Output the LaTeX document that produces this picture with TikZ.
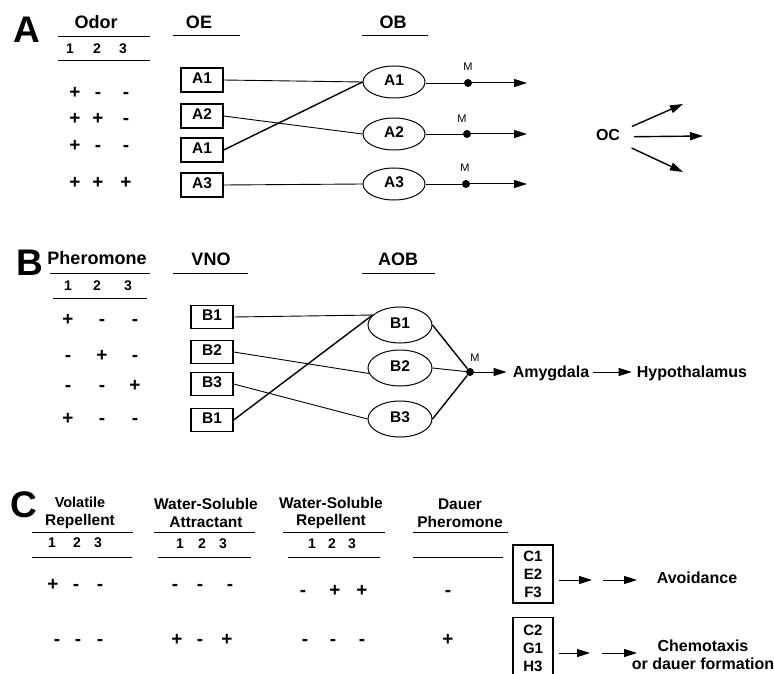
\documentclass[tikz,border=0pt]{standalone}
\usepackage{fontspec}
\setmainfont{Liberation Sans}
\usepackage{tikz}
\usetikzlibrary{shapes,arrows.meta,positioning,calc}

\tikzset{
  panel/.style={font=\bfseries\fontsize{37}{37}\selectfont, inner sep=0pt},
  hdr/.style={font=\bfseries\fontsize{18}{20}\selectfont, inner sep=0pt, text height=0.716em, text depth=0pt},
  hdrc/.style={font=\bfseries\fontsize{15.5}{17.5}\selectfont, align=center, inner sep=0pt},
  num/.style={font=\bfseries\fontsize{14}{16}\selectfont, inner sep=0pt, text height=0.716em, text depth=0pt},
  sgn/.style={font=\bfseries\fontsize{19}{20}\selectfont, inner sep=0pt, text height=0.62em, text depth=0pt},
  rcpt/.style={draw, line width=1.3pt, minimum width=42pt, minimum height=24pt, inner sep=0pt,
    text height=0.716em, text depth=0pt, font=\bfseries\fontsize{15.5}{17}\selectfont},
  glom/.style={draw, ellipse, line width=1pt, minimum width=62pt, minimum height=32pt, inner sep=0pt,
    text height=0.716em, text depth=0pt, font=\bfseries\fontsize{15.5}{17}\selectfont},
  cellbox/.style={draw, line width=1.3pt, minimum width=40pt, inner sep=0pt, align=center,
    font=\bfseries\fontsize{15}{18}\selectfont},
  junc/.style={circle, fill=black, inner sep=0pt, minimum size=8pt},
  mlab/.style={font=\fontsize{11}{12}\selectfont, inner sep=0pt},
  outlab/.style={font=\bfseries\fontsize{16}{18}\selectfont, align=center, inner sep=0pt},
  wire/.style={line width=0.9pt},
  xwire/.style={line width=1.4pt},
  rule/.style={line width=1pt},
  arr/.style={line width=1pt, -{Triangle[length=13pt,width=8pt]}}
}

\begin{document}
\begin{tikzpicture}[x=1pt, y=-1pt]
  \useasboundingbox (0,0) rectangle (774,674);
  \clip (0,0) rectangle (774,674);

  % panel A: odor -> OE -> OB
  \node[panel] (labA) at (27,30) {A};
  \node[hdr] (odor) at (96,25) {Odor};
  \draw[rule] (58,37) -- (150,37);
  \draw[rule] (58,61) -- (150,61);
  \foreach \n/\x in {1/70,2/97,3/123}
    \node[num] (oden\n) at (\x,50) {\n};
  \node[hdr] (oe) at (199,25) {OE};
  \draw[rule] (173,36) -- (240,36);
  \node[hdr] (ob) at (393,25) {OB};
  \draw[rule] (362,36) -- (428,36);

  \foreach \r/\y/\a/\b/\c in {1/95/+/-/-, 2/121/+/+/-, 3/148/+/-/-, 4/185/+/+/+} {
    \node[sgn] (sa\r1) at (75,\y) {\a};
    \node[sgn] (sa\r2) at (98,\y) {\b};
    \node[sgn] (sa\r3) at (126,\y) {\c};
  }

  \node[rcpt] (oea1) at (202,80) {A1};
  \node[rcpt] (oea2) at (202,116) {A2};
  \node[rcpt] (oea1b) at (202,150) {A1};
  \node[rcpt] (oea3) at (202,185) {A3};

  \node[glom] (oba1) at (394,82) {A1};
  \node[glom] (oba2) at (394,134) {A2};
  \node[glom] (oba3) at (394,184) {A3};

  \draw[wire] (oea1.east) -- (oba1.west);
  \draw[wire] (oea2.east) -- (oba2.west);
  \draw[xwire] (oea1b.east) -- (oba1.west);
  \draw[wire] (oea3.east) -- (oba3.west);

  \node[junc] (ma1) at (468,83) {};
  \node[junc] (ma2) at (467,134) {};
  \node[junc] (ma3) at (466,184) {};
  \node[mlab] at (468,67) {M};
  \node[mlab] at (462,119) {M};
  \node[mlab] at (465,168) {M};
  \coordinate (ta1) at (527,83);
  \coordinate (ta2) at (527,134);
  \coordinate (ta3) at (527,184);
  \draw[wire] (oba1.east |- ma1) -- (ma1);
  \draw[wire] (oba2.east) -- (ma2);
  \draw[wire] (oba3.east) -- (ma3);
  \draw[arr] (ma1) -- (ta1);
  \draw[arr] (ma2) -- (ta2);
  \draw[arr] (ma3) -- (ta3);

  \node[outlab, text height=0.716em, text depth=0pt] (oc) at (608,137) {OC};
  \coordinate (ocu) at (683,104);
  \coordinate (ocm) at (703,136);
  \coordinate (ocd) at (683,172);
  \foreach \t in {ocu,ocm,ocd}
    \draw[arr, xwire, shorten <=26pt] (oc.center) -- (\t);

  % panel B: pheromone -> VNO -> AOB
  \node[panel] (labB) at (30,263) {B};
  \node[hdr] (pher) at (97,261) {Pheromone};
  \draw[rule] (50,273) -- (150,273);
  \draw[rule] (53,298) -- (147,298);
  \foreach \n/\x in {1/68,2/97,3/128}
    \node[num] (phn\n) at (\x,287) {\n};
  \node[hdr] (vno) at (211,262) {VNO};
  \draw[rule] (173,273) -- (248,273);
  \node[hdr] (aob) at (398,262) {AOB};
  \draw[rule] (362,273) -- (435,273);

  \foreach \r/\y/\a/\b/\c in {1/322/+/-/-, 2/358/-/+/-, 3/388/-/-/+, 4/421/+/-/-} {
    \node[sgn] (sb\r1) at (68,\y) {\a};
    \node[sgn] (sb\r2) at (102,\y) {\b};
    \node[sgn] (sb\r3) at (135,\y) {\c};
  }

  \node[rcpt, minimum height=23pt] (vnb1) at (212,317) {B1};
  \node[rcpt, minimum height=23pt] (vnb2) at (212,352) {B2};
  \node[rcpt, minimum height=23pt] (vnb3) at (212,384) {B3};
  \node[rcpt, minimum height=23pt] (vnb1b) at (212,420) {B1};

  \node[glom, minimum width=64pt, minimum height=36pt] (aob1) at (400,325) {B1};
  \node[glom, minimum width=64pt, minimum height=36pt] (aob2) at (400,368) {B2};
  \node[glom, minimum width=64pt, minimum height=36pt] (aob3) at (400,419) {B3};

  \draw[wire] (vnb1.east) -- (aob1.160);
  \draw[xwire] (vnb1b.east) -- (aob1.160);
  \draw[wire] (vnb2.east) -- (aob2.190);
  \draw[wire] (vnb3.east) -- (aob3.west);

  \node[junc] (mb) at (470,372) {};
  \node[mlab] at (475,358) {M};
  \draw[xwire] (aob1.east) -- (mb);
  \draw[wire] (aob2.east) -- (mb);
  \draw[xwire] (aob3.east) -- (mb);

  \node[outlab, inner sep=4pt, text height=0.716em, text depth=0pt] (amyg) at (551,374) {Amygdala};
  \node[outlab, inner sep=4pt, text height=0.716em, text depth=0pt] (hypo) at (692,374) {Hypothalamus};
  \draw[arr, shorten >=2pt] (mb) -- (amyg.west |- mb);
  \draw[arr, shorten >=1pt] (amyg.east |- mb) -- (hypo.west |- mb);

  % panel C: C. elegans cues -> sensory neurons -> behaviour
  \node[panel] (labC) at (24,505) {C};
  \node[hdrc] (vrep) at (80,513) {\fontsize{14.5}{17.5}\selectfont Volatile\\Repellent};
  \node[hdrc] (wsatt) at (206,513) {Water-Soluble\\Attractant};
  \node[hdrc] (wsrep) at (331,513) {Water-Soluble\\Repellent};
  \node[hdrc] (dauer) at (460,513) {Dauer\\Pheromone};

  \draw[rule] (32,532) -- (133,532);   \draw[rule] (32,557) -- (132,557);
  \draw[rule] (154,532) -- (255,532);  \draw[rule] (158,557) -- (251,557);
  \draw[rule] (283,532) -- (385,532);  \draw[rule] (288,557) -- (380,557);
  \draw[rule] (413,532) -- (508,532);  \draw[rule] (413,557) -- (503,557);

  \foreach \n/\x in {1/52,2/77,3/98}
    \node[num] (vrn\n) at (\x,544) {\n};
  \foreach \n/\x in {1/180,2/202,3/223}
    \node[num] (wan\n) at (\x,545) {\n};
  \foreach \n/\x in {1/312,2/332,3/352}
    \node[num] (wrn\n) at (\x,545) {\n};

  \foreach \x/\y/\s [count=\i] in {53/587/+, 76/587/-, 100/587/-,
      175/587/-, 200/587/-, 230/587/-,
      303/593/-, 335/593/+, 362/593/+, 448/593/-,
      57/642/-, 78/642/-, 100/642/-,
      177/642/+, 200/642/-, 227/642/+,
      305/642/-, 333/642/-, 362/642/-, 448/642/+}
    \node[sgn] (sc\i) at (\x,\y) {\s};

  \node[cellbox, minimum height=58pt] (cbox1) at (533,574) {C1\\E2\\F3};
  \node[cellbox, minimum height=62pt, anchor=north] (cbox2) at (533,617) {C2\\G1\\H3};

  \node[outlab, text height=0.716em, text depth=0pt] (avoid) at (697,580) {Avoidance};
  \node[outlab] (chemo) at (703,655) {Chemotaxis\\or dauer formation};

  \coordinate (c1a) at (592,580);
  \coordinate (c1b) at (603,580);
  \coordinate (c1c) at (637,580);
  \coordinate (c2a) at (590,653);
  \coordinate (c2b) at (602,653);
  \coordinate (c2c) at (637,653);
  \draw[arr, shorten <=5pt] (cbox1.east |- c1a) -- (c1a);
  \draw[arr] (c1b) -- (c1c);
  \draw[arr, shorten <=5pt] (cbox2.east |- c2a) -- (c2a);
  \draw[arr] (c2b) -- (c2c);
\end{tikzpicture}
\end{document}
